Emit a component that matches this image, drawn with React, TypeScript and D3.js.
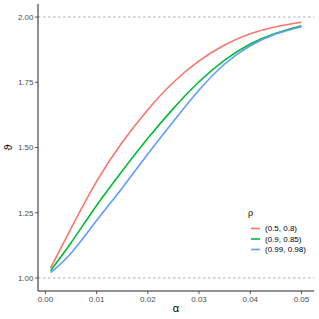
import React from 'react'
import * as d3 from 'd3'

// alpha grid and the three theta curves
const alphas = [0.001, 0.005, 0.01, 0.015, 0.02, 0.025, 0.03, 0.035, 0.04, 0.045, 0.05]
const redVals = [1.038, 1.19, 1.37, 1.52, 1.645, 1.75, 1.832, 1.893, 1.936, 1.963, 1.98]
const greenVals = [1.028, 1.135, 1.278, 1.41, 1.535, 1.65, 1.752, 1.835, 1.897, 1.938, 1.967]
const blueVals = [1.02, 1.095, 1.22, 1.345, 1.475, 1.6, 1.72, 1.82, 1.89, 1.935, 1.963]

const seriesNames = ['(0.5, 0.8)', '(0.9, 0.85)', '(0.99, 0.98)']
const seriesColors = ['#F8766D', '#00BA38', '#619CFF']
const seriesVals = [redVals, greenVals, blueVals]

const xTicks = [0, 0.01, 0.02, 0.03, 0.04, 0.05]
const yTicks = [1, 1.25, 1.5, 1.75, 2]
const refLines = [1, 2]

const W = 319, H = 319
const left = 38, right = 314, top = 4, bottom = 291

export default function App() {
  const x = d3.scaleLinear().domain([-0.00145, 0.05245]).range([left, right])
  const y = d3.scaleLinear().domain([0.95, 2.05]).range([bottom, top])

  const line = d3.line<number>()
    .x((_, i) => x(alphas[i]))
    .y(d => y(d))
    .curve(d3.curveNatural)

  const font = 'Liberation Sans, Arial, sans-serif'

  return (
    <svg width={W} height={H} style={{ position: 'absolute', left: 0, top: 0, background: '#fff' }}
      fontFamily={font}>
      {refLines.map(v => (
        <line key={v} x1={left} x2={right} y1={y(v)} y2={y(v)}
          stroke="#999" strokeWidth={0.8} strokeDasharray="2.5,2.5" />
      ))}
      {seriesVals.map((vals, i) => (
        <path key={i} d={line(vals) || ''} fill="none" stroke={seriesColors[i]} strokeWidth={1.6} />
      ))}

      {/* axes */}
      <line x1={left} x2={left} y1={top} y2={bottom} stroke="#222" strokeWidth={1} />
      <line x1={left} x2={right} y1={bottom} y2={bottom} stroke="#222" strokeWidth={1} />
      {yTicks.map(t => (
        <g key={t}>
          <line x1={left - 3} x2={left} y1={y(t)} y2={y(t)} stroke="#333" strokeWidth={0.8} />
          <text x={left - 4.5} y={y(t)} dy="0.35em" textAnchor="end" fontSize={8} fill="#4d4d4d">
            {d3.format('.2f')(t)}
          </text>
        </g>
      ))}
      {xTicks.map(t => (
        <g key={t}>
          <line x1={x(t)} x2={x(t)} y1={bottom} y2={bottom + 3} stroke="#333" strokeWidth={0.8} />
          <text x={x(t)} y={bottom + 11} textAnchor="middle" fontSize={8} fill="#4d4d4d">
            {d3.format('.2f')(t)}
          </text>
        </g>
      ))}
      <text x={(left + right) / 2} y={312} textAnchor="middle" fontSize={11} fill="#000">α</text>
      <text transform={`translate(12,${(top + bottom) / 2}) rotate(-90)`} textAnchor="middle"
        fontSize={11} fill="#000">ϑ</text>

      {/* legend */}
      <text x={248} y={216} fontSize={9} fill="#000">ρ</text>
      {seriesNames.map((n, i) => (
        <g key={n}>
          <line x1={251} x2={260} y1={228.5 + i * 10.5} y2={228.5 + i * 10.5}
            stroke={seriesColors[i]} strokeWidth={1.6} />
          <text x={265} y={228.5 + i * 10.5} dy="0.35em" fontSize={8} fill="#000">{n}</text>
        </g>
      ))}
    </svg>
  )
}
